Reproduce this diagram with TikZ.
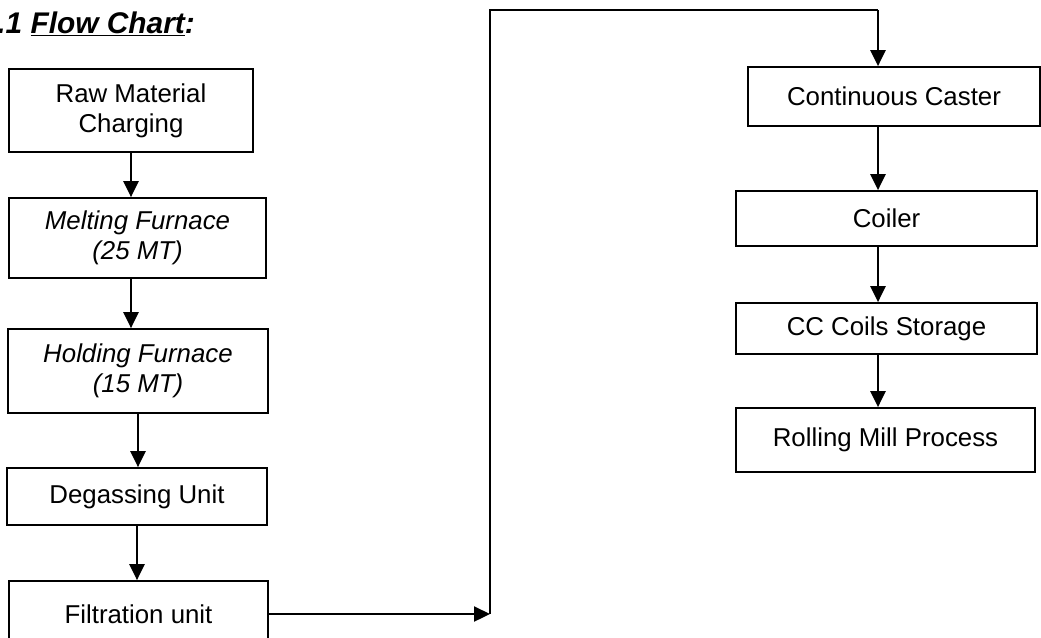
\documentclass[tikz,border=0pt]{standalone}
\usepackage{fontspec}
\setmainfont{Liberation Sans}
\usetikzlibrary{arrows.meta}

\begin{document}
\begin{tikzpicture}[
    x=0.02cm, y=-0.02cm,
    stage/.style={draw, line width=1pt, align=center, inner sep=0pt, font=\fontsize{14.7pt}{17pt}\selectfont},
    flow/.style={line width=1.3pt, -{Triangle[length=0.32cm, width=0.3cm]}},
    link/.style={line width=1.3pt},
    ]
    \useasboundingbox (0,0) rectangle (1041,637);

    % title
    \node[anchor=base west, inner sep=0pt, font=\fontsize{17pt}{20pt}\selectfont\bfseries\itshape] (title) at (-3,33) {.1 \underline{Flow Chart}:};

    % left column
    \node[stage, minimum width=4.88cm, minimum height=1.66cm] (raw) at (131,110.5) {Raw Material\\Charging};
    \node[stage, minimum width=5.14cm, minimum height=1.6cm] (melt) at (137.5,238) {\itshape Melting Furnace\\\itshape (25 MT)};
    \node[stage, minimum width=5.2cm, minimum height=1.68cm] (hold) at (138,371) {\itshape Holding Furnace\\\itshape (15 MT)};
    \node[stage, minimum width=5.2cm, minimum height=1.14cm] (degas) at (137,496.5) {Degassing Unit};
    \node[stage, minimum width=5.18cm, minimum height=1.32cm] (filt) at (138.5,614) {Filtration unit};

    % right column
    \node[stage, minimum width=5.84cm, minimum height=1.18cm] (cast) at (894,96.5) {Continuous Caster};
    \node[stage, minimum width=6.02cm, minimum height=1.1cm] (coil) at (886.5,218.5) {Coiler};
    \node[stage, minimum width=6.02cm, minimum height=1.02cm] (store) at (886.5,328.5) {CC Coils Storage};
    \node[stage, minimum width=5.98cm, minimum height=1.28cm] (roll) at (885.5,440) {Rolling Mill Process};

    % route between the columns
    \coordinate (jn) at (490,614);
    \coordinate (up) at (490,10);
    \coordinate (top) at (878,10);

    % arrows, left column
    \draw[flow] (raw.south) -- (raw.south |- melt.north);
    \draw[flow] (melt.south -| raw.south) -- (hold.north -| raw.south);
    \draw[flow] (hold.south) -- (hold.south |- degas.north);
    \draw[flow] (degas.south) -- (degas.south |- filt.north);

    % filtration to caster
    \draw[flow] (filt.east) -- (jn);
    \draw[link] (jn) -- (up) -- (top);
    \draw[flow] (top) -- (top |- cast.north);

    % arrows, right column
    \draw[flow] (cast.south -| top) -- (coil.north -| top);
    \draw[flow] (coil.south -| top) -- (store.north -| top);
    \draw[flow] (store.south -| top) -- (roll.north -| top);
\end{tikzpicture}
\end{document}
